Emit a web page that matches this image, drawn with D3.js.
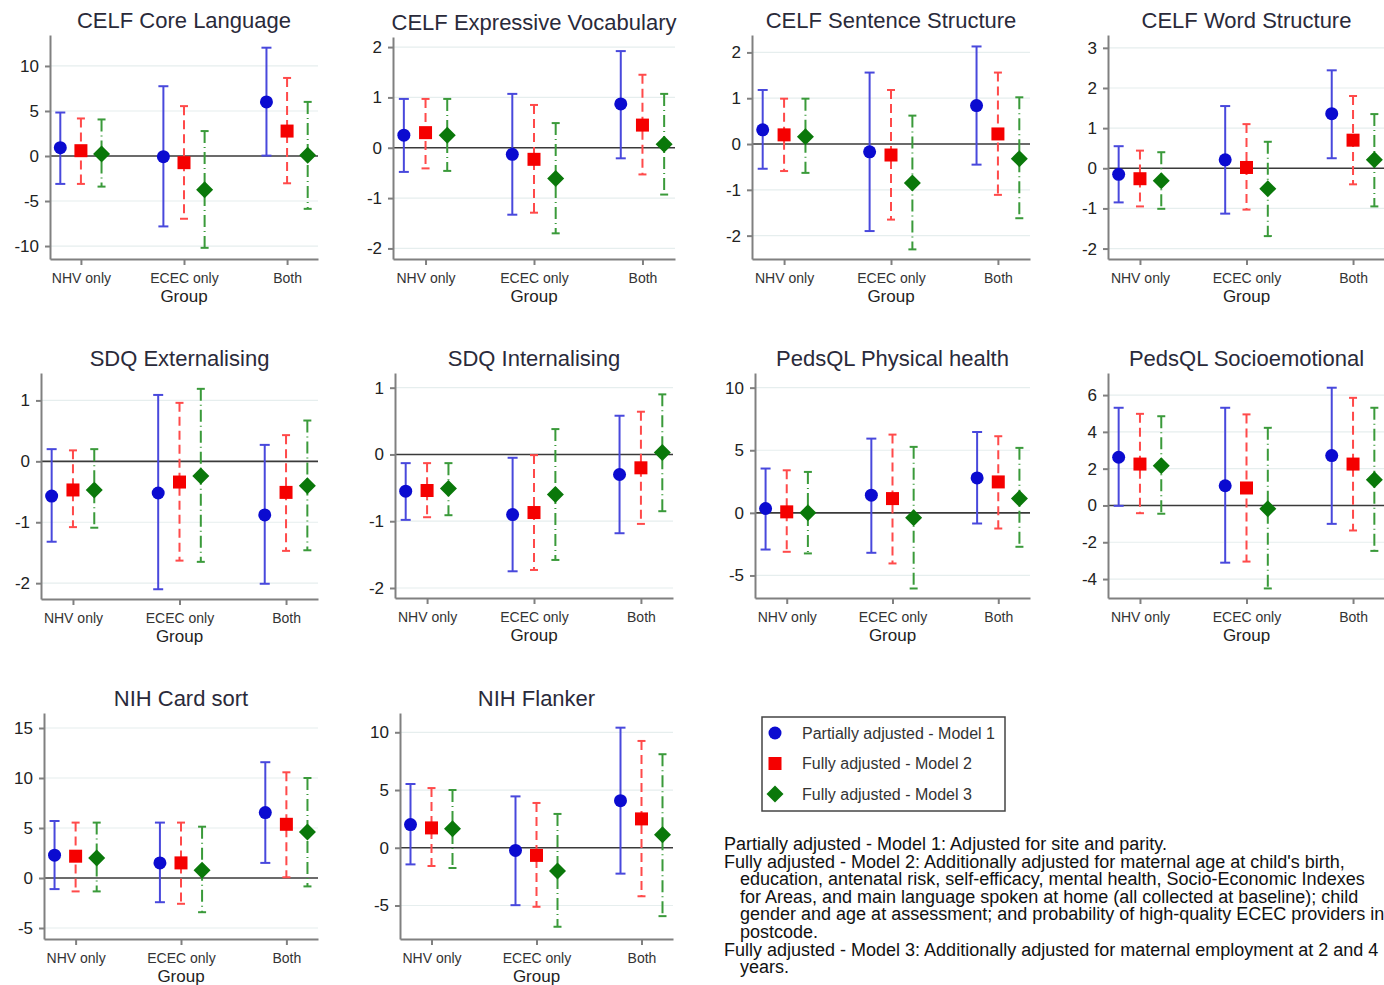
<!DOCTYPE html>
<html>
<head>
<meta charset="utf-8">
<script src="https://d3js.org/d3.v7.min.js"></script>
<style>
    body { margin: 0; background: #fff; }
    svg { font-family: "Liberation Sans", Arial, sans-serif; }
    .title { font-size: 22px; fill: #2a2a3a; text-anchor: middle; }
    .ylab text { font-size: 17px; fill: #222; }
    .xlab text { font-size: 14px; fill: #333; }
    .xtitle { font-size: 17px; fill: #222; text-anchor: middle; }
    .legend text { font-size: 16px; fill: #333; }
    .note { font-size: 18px; fill: #111; }
</style>
</head>
<body>
<script>
    // groups on the x axis and the three models
    var groups = ["NHV only", "ECEC only", "Both"];
    var models = ["Partially adjusted - Model 1", "Fully adjusted - Model 2", "Fully adjusted - Model 3"];
    var titles = ["CELF Core Language", "CELF Expressive Vocabulary", "CELF Sentence Structure", "CELF Word Structure",
        "SDQ Externalising", "SDQ Internalising", "PedsQL Physical health", "PedsQL Socioemotional",
        "NIH Card sort", "NIH Flanker"];

    // rows = model 1..3, columns = NHV only, ECEC only, Both
    var coreLangEst = [[0.92, -0.07, 6.01], [0.59, -0.74, 2.77], [0.22, -3.76, 0.07]];
    var coreLangLo = [[-3.10, -7.82, 0.04], [-3.10, -6.97, -3.03], [-3.40, -10.2, -5.87]];
    var coreLangHi = [[4.83, 7.75, 12.03], [4.17, 5.54, 8.67], [4.06, 2.77, 6.01]];

    var exprVocabEst = [[0.25, -0.13, 0.87], [0.30, -0.23, 0.45], [0.25, -0.61, 0.07]];
    var exprVocabLo = [[-0.48, -1.33, -0.21], [-0.41, -1.29, -0.53], [-0.46, -1.70, -0.93]];
    var exprVocabHi = [[0.97, 1.07, 1.92], [0.97, 0.85, 1.45], [0.97, 0.49, 1.07]];

    var sentStructEst = [[0.31, -0.17, 0.84], [0.20, -0.24, 0.22], [0.16, -0.85, -0.32]];
    var sentStructLo = [[-0.54, -1.90, -0.45], [-0.59, -1.65, -1.11], [-0.63, -2.30, -1.62]];
    var sentStructHi = [[1.18, 1.56, 2.13], [0.99, 1.18, 1.56], [0.99, 0.62, 1.02]];

    var wordStructEst = [[-0.15, 0.21, 1.36], [-0.26, 0.02, 0.70], [-0.31, -0.51, 0.21]];
    var wordStructLo = [[-0.85, -1.13, 0.25], [-0.95, -1.03, -0.40], [-1.01, -1.69, -0.95]];
    var wordStructHi = [[0.55, 1.55, 2.44], [0.44, 1.10, 1.80], [0.40, 0.66, 1.35]];

    var sdqExtEst = [[-0.57, -0.52, -0.88], [-0.47, -0.34, -0.51], [-0.47, -0.24, -0.40]];
    var sdqExtLo = [[-1.32, -2.10, -2.01], [-1.08, -1.63, -1.47], [-1.09, -1.65, -1.46]];
    var sdqExtHi = [[0.20, 1.09, 0.27], [0.18, 0.96, 0.43], [0.20, 1.19, 0.67]];

    var sdqIntEst = [[-0.55, -0.90, -0.30], [-0.54, -0.87, -0.20], [-0.51, -0.60, 0.03]];
    var sdqIntLo = [[-0.98, -1.75, -1.18], [-0.94, -1.73, -1.04], [-0.91, -1.58, -0.85]];
    var sdqIntHi = [[-0.13, -0.05, 0.58], [-0.13, -0.01, 0.64], [-0.13, 0.38, 0.90]];

    var pedsPhysEst = [[0.35, 1.41, 2.79], [0.08, 1.14, 2.47], [0.00, -0.40, 1.14]];
    var pedsPhysLo = [[-2.93, -3.19, -0.85], [-3.11, -4.04, -1.25], [-3.24, -6.04, -2.71]];
    var pedsPhysHi = [[3.54, 5.93, 6.46], [3.40, 6.25, 6.12], [3.27, 5.27, 5.19]];

    var pedsSocioEst = [[2.62, 1.07, 2.71], [2.25, 0.95, 2.25], [2.16, -0.18, 1.40]];
    var pedsSocioLo = [[-0.02, -3.11, -1.00], [-0.42, -3.05, -1.36], [-0.45, -4.51, -2.47]];
    var pedsSocioHi = [[5.31, 5.31, 6.40], [4.98, 4.95, 5.85], [4.85, 4.22, 5.31]];

    var cardSortEst = [[2.28, 1.51, 6.54], [2.18, 1.51, 5.37], [2.01, 0.77, 4.60]];
    var cardSortLo = [[-1.11, -2.42, 1.51], [-1.34, -2.58, 0.07], [-1.34, -3.42, -0.84]];
    var cardSortHi = [[5.70, 5.54, 11.58], [5.54, 5.54, 10.57], [5.54, 5.13, 10.00]];

    var flankerEst = [[2.01, -0.23, 4.08], [1.72, -0.66, 2.50], [1.64, -2.01, 1.12]];
    var flankerLo = [[-1.44, -4.97, -2.24], [-1.58, -5.11, -4.20], [-1.75, -6.84, -5.92]];
    var flankerHi = [[5.52, 4.45, 10.40], [5.17, 3.88, 9.25], [5.00, 2.93, 8.10]];

    var yTicks = [[-10, -5, 0, 5, 10], [-2, -1, 0, 1, 2], [-2, -1, 0, 1, 2], [-2, -1, 0, 1, 2, 3],
        [-2, -1, 0, 1], [-2, -1, 0, 1], [-5, 0, 5, 10], [-4, -2, 0, 2, 4, 6],
        [-5, 0, 5, 10, 15], [-5, 0, 5, 10]];
    var yDomains = [[-11.44, 13.44], [-2.21, 2.2], [-2.51, 2.38], [-2.26, 3.32],
        [-2.26, 1.45], [-2.15, 1.22], [-6.8, 11.17], [-5.03, 7.2],
        [-6.1, 16.5], [-7.9, 11.67]];

    var notes = [
        { x: 724, t: "Partially adjusted - Model 1: Adjusted for site and parity." },
        { x: 724, t: "Fully adjusted - Model 2: Additionally adjusted for maternal age at child's birth," },
        { x: 740, t: "education, antenatal risk, self-efficacy, mental health, Socio-Economic Indexes" },
        { x: 740, t: "for Areas, and main language spoken at home (all collected at baseline); child" },
        { x: 740, t: "gender and age at assessment; and probability of high-quality ECEC providers in" },
        { x: 740, t: "postcode." },
        { x: 724, t: "Fully adjusted - Model 3: Additionally adjusted for maternal employment at 2 and 4" },
        { x: 740, t: "years." }
    ];

    var est = [coreLangEst, exprVocabEst, sentStructEst, wordStructEst, sdqExtEst, sdqIntEst, pedsPhysEst, pedsSocioEst, cardSortEst, flankerEst];
    var lo = [coreLangLo, exprVocabLo, sentStructLo, wordStructLo, sdqExtLo, sdqIntLo, pedsPhysLo, pedsSocioLo, cardSortLo, flankerLo];
    var hi = [coreLangHi, exprVocabHi, sentStructHi, wordStructHi, sdqExtHi, sdqIntHi, pedsPhysHi, pedsSocioHi, cardSortHi, flankerHi];

    // plot region of each panel: left, right, top, bottom
    var boxes = [[50, 318, 35, 259], [393, 675, 37, 259], [752, 1030, 35, 259], [1108, 1385, 35, 259],
        [41, 318, 373, 599], [395, 673, 373, 598], [755, 1030, 373, 598], [1108, 1385, 373, 598],
        [44, 318, 713, 939], [400, 673, 713, 939]];

    var markerCol = ["#0b0bd0", "#f50000", "#0a780a"];
    var lineCol = ["#4848dc", "#ff4a4a", "#3a9a3a"];
    var dashes = [null, "9,5", "12,4,1,4"];
    var capW = [5, 4, 4];
    var offsets = [-0.2, 0, 0.2];

    var svg = d3.select("body").append("svg")
        .attr("width", 1384)
        .attr("height", 985);

    function marker(sel, m) {
        if (m == 0) sel.append("circle").attr("r", 6.5);
        else if (m == 1) sel.append("rect").attr("x", -6.5).attr("y", -6.5).attr("width", 13).attr("height", 13);
        else sel.append("path").attr("d", "M0,-8.5L8.5,0L0,8.5L-8.5,0Z");
    }

    titles.forEach(function (title, p) {
        var b = boxes[p];
        var x = d3.scaleLinear().domain([-0.3, 2.3]).range([b[0], b[1]]);
        var y = d3.scaleLinear().domain(yDomains[p]).range([b[3], b[2]]);
        var g = svg.append("g");

        // grid
        g.selectAll(".grid").data(yTicks[p].filter(function (d) { return d != 0; }))
            .enter().append("line")
            .attr("x1", b[0]).attr("x2", b[1])
            .attr("y1", function (d) { return y(d); }).attr("y2", function (d) { return y(d); })
            .attr("stroke", "#e6eeee").attr("stroke-width", 1.2);

        // reference line at 0
        g.append("line")
            .attr("x1", b[0]).attr("x2", b[1])
            .attr("y1", y(0)).attr("y2", y(0))
            .attr("stroke", "#3a3a3a").attr("stroke-width", 1.6);

        var ya = g.append("g").attr("class", "ylab")
            .attr("transform", "translate(" + b[0] + ",0)")
            .call(d3.axisLeft(y).tickValues(yTicks[p]).tickFormat(function (d) { return String(d); })
                .tickSize(5).tickSizeOuter(0).tickPadding(6));
        ya.selectAll("line, path").attr("stroke", "#808080").attr("stroke-width", 2);
        ya.selectAll("text").attr("fill", "#222");

        var xa = g.append("g").attr("class", "xlab")
            .attr("transform", "translate(0," + b[3] + ")")
            .call(d3.axisBottom(x).tickValues([0, 1, 2]).tickFormat(function (i) { return groups[i]; })
                .tickSize(6).tickSizeOuter(0).tickPadding(8));
        xa.selectAll("line, path").attr("stroke", "#808080").attr("stroke-width", 2);
        xa.selectAll("text").attr("fill", "#333");

        g.append("text").attr("class", "xtitle")
            .attr("x", x(1)).attr("y", b[3] + 43)
            .text("Group");

        g.append("text").attr("class", "title")
            .attr("x", (b[0] + b[1]) / 2).attr("y", b[2] - 7)
            .text(title);

        models.forEach(function (mName, m) {
            var pts = groups.map(function (gName, i) {
                return { cx: x(i + offsets[m]), e: est[p][m][i], l: lo[p][m][i], h: hi[p][m][i] };
            });
            var s = g.append("g");
            s.selectAll(".bar").data(pts).enter().append("line")
                .attr("x1", function (d) { return d.cx; }).attr("x2", function (d) { return d.cx; })
                .attr("y1", function (d) { return y(d.h); }).attr("y2", function (d) { return y(d.l); })
                .attr("stroke", lineCol[m]).attr("stroke-width", 2)
                .attr("stroke-dasharray", dashes[m]);
            ["h", "l"].forEach(function (k) {
                s.selectAll(".cap" + k).data(pts).enter().append("line")
                    .attr("x1", function (d) { return d.cx - capW[m]; }).attr("x2", function (d) { return d.cx + capW[m]; })
                    .attr("y1", function (d) { return y(d[k]); }).attr("y2", function (d) { return y(d[k]); })
                    .attr("stroke", lineCol[m]).attr("stroke-width", 2);
            });
            s.selectAll(".pt").data(pts).enter().append("g")
                .attr("transform", function (d) { return "translate(" + d.cx + "," + y(d.e) + ")"; })
                .attr("fill", markerCol[m])
                .each(function () { marker(d3.select(this), m); });
        });
    });

    // legend
    var lg = svg.append("g").attr("class", "legend");
    lg.append("rect").attr("x", 762).attr("y", 717).attr("width", 243).attr("height", 94)
        .attr("fill", "#fff").attr("stroke", "#444").attr("stroke-width", 1.5);
    models.forEach(function (mName, m) {
        var row = lg.append("g").attr("transform", "translate(0," + (733 + m * 30.5) + ")");
        row.append("g").attr("transform", "translate(775,0)").attr("fill", markerCol[m])
            .each(function () { marker(d3.select(this), m); });
        row.append("text").attr("x", 802).attr("y", 5.5).text(mName);
    });

    svg.selectAll(".note").data(notes).enter().append("text")
        .attr("class", "note")
        .attr("x", function (d) { return d.x; })
        .attr("y", function (d, i) { return 850 + i * 17.6; })
        .text(function (d) { return d.t; });
</script>
</body>
</html>
